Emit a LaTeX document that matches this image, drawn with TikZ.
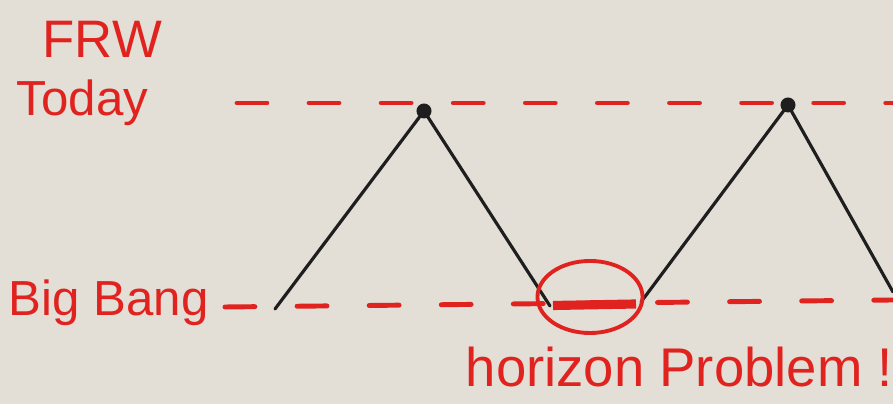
\documentclass[tikz,border=0pt]{standalone}
\usepackage{fontspec}
\setmainfont{Liberation Sans}
\usetikzlibrary{positioning,shapes.geometric}
\definecolor{Board}{HTML}{E3DED6}
\definecolor{Marker}{HTML}{E0231F}
\definecolor{Ink}{HTML}{1E1E1E}
\tikzset{
  epoch/.style={draw=Marker,line width=1.4pt,line cap=round,dash pattern=on 8.5pt off 12pt},
  worldline/.style={draw=Ink,line width=.9pt,line cap=round},
  event/.style={circle,fill=Ink,draw=none,minimum size=1.5mm,inner sep=0pt},
  lab/.style={text=Marker,inner sep=0pt,font=\fontsize{14}{17}\selectfont},
  patch/.style={ellipse,draw=Marker,line width=1.1pt,minimum width=1.05cm,minimum height=.72cm,inner sep=0pt},
  overlap/.style={draw=Marker,line width=2.6pt}
}
\begin{document}
\begin{tikzpicture}[x=0.01cm,y=-0.01cm]
  \fill[Board] (0,0) rectangle (893,404);
  \useasboundingbox (0,0) rectangle (893,404);
  % labels
  \node[lab,anchor=base west,font=\fontsize{15}{18}\selectfont] (frw) at (42,58) {FRW};
  \node[lab,anchor=base west] (today) at (16,116) {Today};
  \node[lab,anchor=base west] (bang) at (8,316) {Big Bang};
  \node[lab,anchor=base west,font=\fontsize{15.5}{18}\selectfont] (horizon) at (465,387) {horizon Problem !};
  % epoch lines
  \coordinate (t0) at (237,103); \coordinate (t1) at (893,103);
  \coordinate (b0) at (225,307); \coordinate (b1) at (893,300);
  \draw[epoch] (t0) -- (t1);
  \draw[epoch] (b0) -- (b1);
  % light cones
  \node[event] (now1) at (424,111) {};
  \node[event] (now2) at (788,105) {};
  \coordinate (bb1) at (275,309);
  \coordinate (bb2) at (550,306);
  \coordinate (bb3) at (641,302);
  \coordinate (bb4) at (893,292);
  \draw[worldline] (bb1) -- (now1.center) -- (bb2);
  \draw[worldline] (bb3) -- (now2.center) -- (bb4);
  % causally disconnected patch
  \node[patch] (patch) at (590,297) {};
  \coordinate (o1) at (553,305.5); \coordinate (o2) at (636,304);
  \draw[overlap] (o1) -- (o2);
\end{tikzpicture}
\end{document}
